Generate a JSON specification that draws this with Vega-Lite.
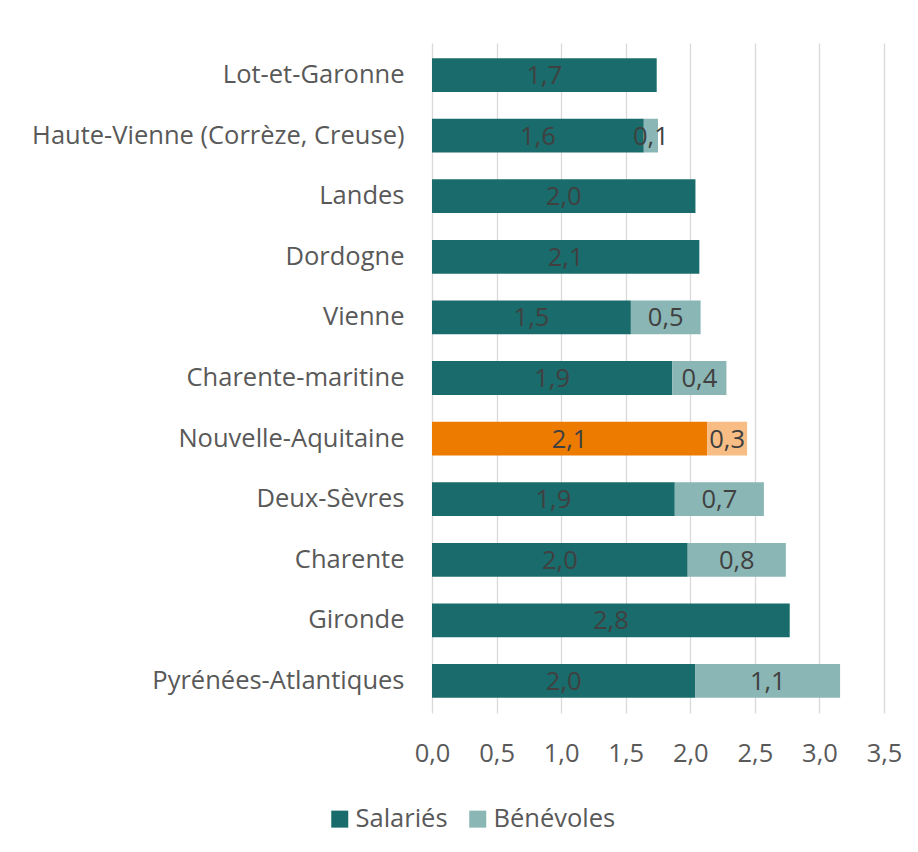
{
  "$schema": "https://vega.github.io/schema/vega-lite/v6.json",
  "autosize": "none",
  "width": 452,
  "height": 670,
  "padding": {"left": 432, "top": 43, "right": 34, "bottom": 139},
  "background": "white",
  "config": {
    "font": "Open Sans",
    "view": {"stroke": null},
    "locale": {"number": {"decimal": ",", "thousands": " ", "grouping": [3], "currency": ["", " €"]}}
  },
  "data": {
    "values": [
      {"region": "Lot-et-Garonne", "serie": "Salariés", "valeur": 1.74},
      {"region": "Haute-Vienne (Corrèze, Creuse)", "serie": "Salariés", "valeur": 1.64},
      {"region": "Haute-Vienne (Corrèze, Creuse)", "serie": "Bénévoles", "valeur": 0.11},
      {"region": "Landes", "serie": "Salariés", "valeur": 2.04},
      {"region": "Dordogne", "serie": "Salariés", "valeur": 2.07},
      {"region": "Vienne", "serie": "Salariés", "valeur": 1.54},
      {"region": "Vienne", "serie": "Bénévoles", "valeur": 0.54},
      {"region": "Charente-maritine", "serie": "Salariés", "valeur": 1.86},
      {"region": "Charente-maritine", "serie": "Bénévoles", "valeur": 0.42},
      {"region": "Nouvelle-Aquitaine", "serie": "Salariés", "valeur": 2.13},
      {"region": "Nouvelle-Aquitaine", "serie": "Bénévoles", "valeur": 0.31},
      {"region": "Deux-Sèvres", "serie": "Salariés", "valeur": 1.88},
      {"region": "Deux-Sèvres", "serie": "Bénévoles", "valeur": 0.69},
      {"region": "Charente", "serie": "Salariés", "valeur": 1.98},
      {"region": "Charente", "serie": "Bénévoles", "valeur": 0.76},
      {"region": "Gironde", "serie": "Salariés", "valeur": 2.77},
      {"region": "Pyrénées-Atlantiques", "serie": "Salariés", "valeur": 2.04},
      {"region": "Pyrénées-Atlantiques", "serie": "Bénévoles", "valeur": 1.12}
    ]
  },
  "transform": [
    {"stack": "valeur", "groupby": ["region"], "sort": [{"field": "serie", "order": "descending"}], "as": ["v0", "v1"]},
    {"calculate": "(datum.v0 + datum.v1) / 2", "as": "mid"}
  ],
  "encoding": {
    "y": {
      "field": "region",
      "type": "nominal",
      "sort": null,
      "title": null,
      "scale": {"paddingInner": 0.443, "paddingOuter": 0.25},
      "axis": {"ticks": false, "domain": false, "labelPadding": 28, "labelFontSize": 25.5, "labelColor": "#595959", "labelLimit": 500}
    }
  },
  "layer": [
    {
      "mark": {"type": "bar"},
      "encoding": {
        "x": {
          "field": "v0",
          "type": "quantitative",
          "scale": {"domain": [0, 3.5], "nice": false},
          "title": null,
          "axis": {
            "values": [0, 0.5, 1, 1.5, 2, 2.5, 3, 3.5],
            "format": ".1f",
            "grid": true,
            "gridColor": "#D9D9D9",
            "gridWidth": 1.3,
            "ticks": false,
            "domain": false,
            "labelFlush": false,
            "labelPadding": 28,
            "labelFontSize": 25.5,
            "labelColor": "#595959"
          }
        },
        "x2": {"field": "v1"},
        "color": {
          "condition": [
            {"test": "datum.region === 'Nouvelle-Aquitaine' && datum.serie === 'Salariés'", "value": "#EC7B00"},
            {"test": "datum.region === 'Nouvelle-Aquitaine' && datum.serie === 'Bénévoles'", "value": "#F8BD84"}
          ],
          "field": "serie",
          "type": "nominal",
          "scale": {"domain": ["Salariés", "Bénévoles"], "range": ["#1A6B6B", "#8AB6B5"]},
          "legend": {
            "title": null,
            "orient": "none",
            "direction": "horizontal",
            "legendX": -105,
            "legendY": 763,
            "symbolType": "square",
            "symbolSize": 289,
            "symbolStrokeWidth": 0,
            "symbolOpacity": 1,
            "labelFontSize": 25.5,
            "labelColor": "#595959",
            "labelOffset": 3,
            "columnPadding": 17
          }
        }
      }
    },
    {
      "transform": [{"filter": "datum.valeur > 0"}],
      "mark": {"type": "text", "fontSize": 25.5, "color": "#404040", "align": "center", "baseline": "middle", "dy": 1},
      "encoding": {
        "x": {"field": "mid", "type": "quantitative"},
        "text": {"field": "valeur", "type": "quantitative", "format": ".1f"}
      }
    }
  ]
}
